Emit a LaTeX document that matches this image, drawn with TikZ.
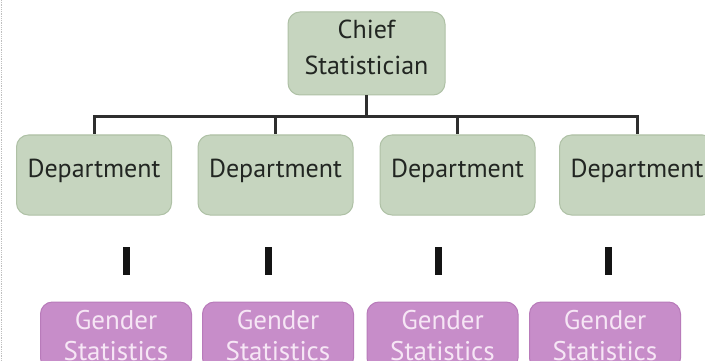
\documentclass[tikz,border=0pt]{standalone}
\usepackage{fontspec}
\setmainfont{PT Sans}
\definecolor{boxgreen}{HTML}{C6D5BF}
\definecolor{boxgreenedge}{HTML}{AFC1A6}
\definecolor{boxpurple}{HTML}{C78DC9}
\definecolor{boxpurpleedge}{HTML}{B87BBA}
\definecolor{purpletext}{HTML}{F6E6F5}
\definecolor{linedark}{HTML}{2E2E2E}
\definecolor{bardark}{HTML}{141414}
\definecolor{greentext}{HTML}{222622}
\begin{document}
\begin{tikzpicture}[x=1pt,y=-1pt,
  greenbox/.style={draw=boxgreenedge, line width=1pt, fill=boxgreen, rounded corners=12pt,
    inner sep=0pt, align=center, text=greentext},
  chiefbox/.style={greenbox, minimum width=157pt, minimum height=83pt},
  chieftext/.style={inner sep=0pt, align=center, text=greentext,
    font=\fontsize{26}{36}\selectfont},
  deptbox/.style={greenbox, minimum width=155pt, minimum height=80pt,
    text height=18pt, text depth=14pt, font=\fontsize{26}{28}\selectfont},
  genderbox/.style={draw=boxpurpleedge, line width=1pt, fill=boxpurple, rounded corners=12pt,
    inner sep=0pt, minimum width=151pt, minimum height=68pt, align=center,
    text=purpletext, font=\fontsize{27}{31}\selectfont},
  treeline/.style={draw=linedark, line width=3pt},
  barline/.style={draw=bardark, line width=7pt}
]
\useasboundingbox (0,0) rectangle (705,361);
\clip (0,0) rectangle (705,361);
\fill[white] (0,0) rectangle (705,361);
\draw[black!25, densely dotted, line width=0.8pt] (1.5,0) -- (1.5,361);

\node[chiefbox] (chief) at (366.5,53.5) {};
\node[chieftext] (chieflabel) at (366.5,47.5) {Chief\\Statistician};

\node[deptbox] (d1) at (94,175) {Department};
\node[deptbox] (d2) at (275.5,175) {Department};
\node[deptbox] (d3) at (457.5,175) {Department};
\node[deptbox] (d4) at (637,175) {Department};

\node[genderbox] (g1) at (116,336) {Gender\\Statistics};
\node[genderbox] (g2) at (278,336) {Gender\\Statistics};
\node[genderbox] (g3) at (442.5,336) {Gender\\Statistics};
\node[genderbox] (g4) at (605,336) {Gender\\Statistics};

\coordinate (hub) at (chief.south |- 0,117);
\draw[treeline] (chief.south) -- (hub);
\draw[treeline, line cap=rect] (d1.north |- hub) -- (d4.north |- hub);
\draw[treeline] (d1.north |- hub) -- (d1.north);
\draw[treeline] (d2.north |- hub) -- (d2.north);
\draw[treeline] (d3.north |- hub) -- (d3.north);
\draw[treeline] (d4.north |- hub) -- (d4.north);

\coordinate (b1t) at (126,247); \coordinate (b1b) at (126,275);
\coordinate (b2t) at (268,247); \coordinate (b2b) at (268,275);
\coordinate (b3t) at (438,247); \coordinate (b3b) at (438,275);
\coordinate (b4t) at (608,247); \coordinate (b4b) at (608,275);
\draw[barline] (b1t) -- (b1b);
\draw[barline] (b2t) -- (b2b);
\draw[barline] (b3t) -- (b3b);
\draw[barline] (b4t) -- (b4b);
\end{tikzpicture}
\end{document}
